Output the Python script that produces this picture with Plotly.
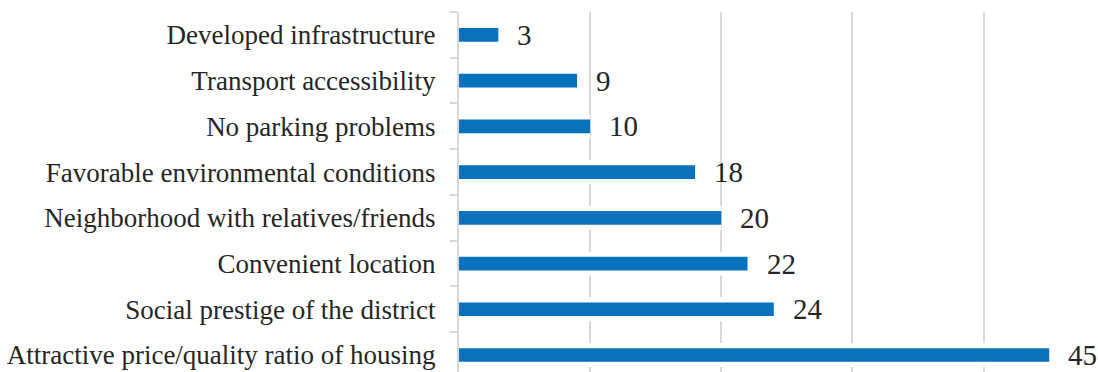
import plotly.graph_objects as go

categories = [
    "Attractive price/quality ratio of housing",
    "Social prestige of the district",
    "Convenient location",
    "Neighborhood with relatives/friends",
    "Favorable environmental conditions",
    "No parking problems",
    "Transport accessibility",
    "Developed infrastructure",
]
values = [45, 24, 22, 20, 18, 10, 9, 3]

BLUE = "#0872bd"
GRID = "#d9d9d9"
TEXT = "#262626"
FONT = "Liberation Serif"

fig = go.Figure()
# white halo behind bars (interrupts gridlines like the original)
fig.add_trace(go.Bar(
    y=categories, x=values, orientation="h", width=0.52,
    marker=dict(color="white", line=dict(width=0)),
    hoverinfo="skip", showlegend=False,
))
fig.add_trace(go.Bar(
    y=categories, x=values, orientation="h", width=0.3,
    marker=dict(color=BLUE, line=dict(width=0)),
    showlegend=False,
))

for c, v in zip(categories, values):
    fig.add_annotation(
        x=v, y=c, text=str(v), showarrow=False,
        xanchor="left", yanchor="middle", xshift=17, yshift=0,
        font=dict(family=FONT, size=29, color=TEXT),
    )

fig.update_layout(
    width=1098, height=372,
    margin=dict(l=459, r=0, t=12, b=0, autoexpand=False),
    paper_bgcolor="white", plot_bgcolor="white",
    barmode="overlay",
    font=dict(family=FONT, size=27, color=TEXT),
    xaxis=dict(
        range=[0, 48.72], dtick=10, tick0=0,
        showgrid=True, gridcolor=GRID, gridwidth=2,
        showticklabels=False, zeroline=False, showline=False,
        fixedrange=True,
    ),
    yaxis=dict(
        type="category", range=[-0.372, 7.5],
        showline=True, linecolor=GRID, linewidth=2,
        ticks="outside", tickson="boundaries", ticklen=7,
        tickcolor=GRID, tickwidth=2,
        ticklabelstandoff=16,
        showgrid=False, automargin=False,
        tickfont=dict(family=FONT, size=27, color=TEXT),
    ),
)

fig.write_html("out.html")
